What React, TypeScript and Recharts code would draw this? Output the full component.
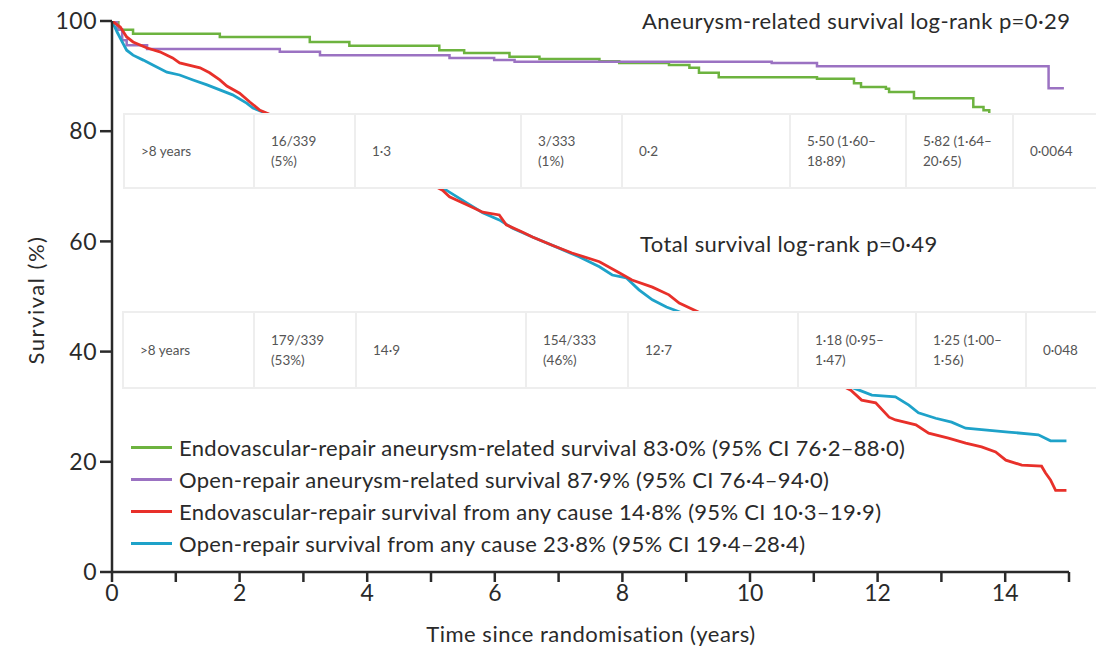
import React from "react";
import { LineChart, Line, XAxis, YAxis } from "recharts";

// [years, survival %]
const evarAneurysm: [number, number][] = [
  [0, 100], [0.1, 98.4], [0.33, 97.7], [1.69, 97.1], [3.1, 96.2], [3.72, 95.5],
  [5.13, 94.7], [5.52, 94.2], [6.23, 93.5], [6.7, 93.1], [7.64, 92.7], [7.95, 92.4],
  [8.73, 92.0], [9.05, 91.5], [9.2, 90.6], [9.51, 89.8], [11.05, 89.5], [11.63, 88.7],
  [11.74, 88.0], [12.13, 87.7], [12.18, 87.1], [12.57, 86.0], [13.5, 84.4],
  [13.66, 83.8], [13.75, 83.0],
];
const openAneurysm: [number, number][] = [
  [0, 100], [0.08, 98.4], [0.16, 96.5], [0.23, 95.6], [0.55, 94.9], [2.63, 94.4],
  [3.26, 93.8], [5.29, 93.3], [5.99, 92.9], [6.31, 92.6], [10.34, 92.4],
  [11.05, 91.8], [14.68, 87.8], [14.92, 87.8],
];
const evarAnyCause: [number, number][] = [
  [0, 100], [0.13, 98.9], [0.23, 97.1], [0.33, 96.2], [0.55, 95.1], [0.75, 94.4],
  [0.95, 93.3], [1.06, 92.4], [1.38, 91.5], [1.53, 90.6], [1.69, 89.3], [1.8, 88.2],
  [2.0, 86.9], [2.16, 85.3], [2.32, 83.8], [3.0, 80.5], [3.7, 77.3], [4.4, 73.8],
  [4.9, 71.0], [5.18, 69.3], [5.29, 68.1], [5.57, 66.6], [5.81, 65.3], [6.07, 64.8],
  [6.18, 63.0], [6.43, 61.7], [6.59, 60.8], [6.9, 59.3], [7.21, 57.9], [7.64, 56.3],
  [7.95, 54.3], [8.15, 53.0], [8.47, 51.7], [8.73, 50.3], [8.89, 48.8], [9.5, 45.5],
  [10.2, 41.5], [10.9, 37.0], [11.58, 33.0], [11.75, 31.2], [11.97, 30.7],
  [12.18, 28.1], [12.28, 27.6], [12.6, 26.7], [12.8, 25.2], [13.11, 24.3],
  [13.38, 23.4], [13.63, 22.7], [13.85, 21.8], [14.01, 20.3], [14.26, 19.4],
  [14.57, 19.2], [14.63, 18.0], [14.71, 16.7], [14.79, 14.8], [14.96, 14.8],
];
const openAnyCause: [number, number][] = [
  [0, 100], [0.08, 98.0], [0.17, 96.0], [0.23, 94.7], [0.33, 93.8], [0.49, 92.9],
  [0.64, 92.0], [0.86, 90.7], [1.06, 90.2], [1.27, 89.3], [1.49, 88.4], [1.69, 87.5],
  [1.89, 86.6], [2.11, 85.1], [2.21, 84.2], [2.9, 81.0], [3.6, 77.8], [4.3, 74.2],
  [4.9, 71.0], [5.24, 69.3], [5.56, 67.0], [5.81, 65.2], [6.07, 63.9], [6.28, 62.4],
  [6.59, 60.8], [6.96, 59.0], [7.32, 57.2], [7.64, 55.4], [7.84, 53.9], [8.06, 53.4],
  [8.26, 51.2], [8.47, 49.4], [8.69, 48.1], [9.4, 45.0], [10.1, 41.0], [10.9, 36.5],
  [11.71, 33.0], [11.91, 32.1], [12.28, 31.8], [12.49, 30.3], [12.64, 28.9],
  [12.91, 27.9], [13.16, 27.2], [13.38, 26.1], [14.05, 25.4], [14.52, 24.9],
  [14.71, 23.8], [14.96, 23.8],
];

const xTicks = [0, 1, 2, 3, 4, 5, 6, 7, 8, 9, 10, 11, 12, 13, 14, 15];
const yTicks = [0, 20, 40, 60, 80, 100];

const aneurysmRow = [">8 years", "16/339\n(5%)", "1·3", "3/333\n(1%)", "0·2", "5·50 (1·60–\n18·89)", "5·82 (1·64–\n20·65)", "0·0064"];
const totalRow = [">8 years", "179/339\n(53%)", "14·9", "154/333\n(46%)", "12·7", "1·18 (0·95–\n1·47)", "1·25 (1·00–\n1·56)", "0·048"];

const legendItems = [
  { label: "Endovascular-repair aneurysm-related survival 83·0% (95% CI 76·2–88·0)", color: "#6db33f" },
  { label: "Open-repair aneurysm-related survival 87·9% (95% CI 76·4–94·0)", color: "#9b72c2" },
  { label: "Endovascular-repair survival from any cause 14·8% (95% CI 10·3–19·9)", color: "#e8302a" },
  { label: "Open-repair survival from any cause 23·8% (95% CI 19·4–28·4)", color: "#1ea2c9" },
];

const toRows = (pts: [number, number][]) => pts.map(([t, s]) => ({ t, s }));

const FONT = "Lato, 'Open Sans', sans-serif";
const INK = "#2a2a2a";

function StatsTable({ top, height, left, cols, cells }: { top: number; height: number; left: number; cols: number[]; cells: string[] }) {
  const edges = [left, ...cols, 1096];
  return (
    <div style={{ position: "absolute", top, left, width: 1096 - left, height, background: "#fff", border: "2px solid #eeeeee", borderRight: "none", boxSizing: "border-box" }}>
      {cells.map((c, i) => (
        <div
          key={i}
          style={{
            position: "absolute",
            left: edges[i] - left,
            width: edges[i + 1] - edges[i],
            top: 0,
            bottom: 0,
            borderLeft: i === 0 ? "none" : "2px solid #eeeeee",
            boxSizing: "border-box",
            display: "flex",
            alignItems: "center",
            paddingLeft: 16,
            whiteSpace: "pre",
            fontSize: 13.5,
            lineHeight: "20px",
            color: "#555",
            fontFamily: FONT,
          }}
        >
          {c}
        </div>
      ))}
    </div>
  );
}

export default function App() {
  return (
    <div style={{ position: "absolute", top: 0, left: 0, width: 1096, height: 647, background: "#fff", overflow: "hidden", fontFamily: FONT }}>
      <LineChart width={1096} height={647} margin={{ top: 21, right: 27, left: 52, bottom: 35 }}>
        <XAxis
          type="number"
          dataKey="t"
          domain={[0, 15]}
          ticks={xTicks}
          interval={0}
          tickFormatter={(v: number) => (v % 2 === 0 ? String(v) : "")}
          height={40}
          tickSize={10}
          tickMargin={3}
          axisLine={{ stroke: INK, strokeWidth: 2.5 }}
          tickLine={{ stroke: INK, strokeWidth: 2.5 }}
          tick={{ fill: INK, fontSize: 23, fontFamily: FONT }}
          allowDataOverflow
        />
        <YAxis
          type="number"
          domain={[0, 100]}
          ticks={yTicks}
          interval={0}
          width={60}
          tickSize={12}
          tickMargin={3}
          axisLine={{ stroke: INK, strokeWidth: 2.5 }}
          tickLine={{ stroke: INK, strokeWidth: 2.5 }}
          tick={{ fill: INK, fontSize: 23, fontFamily: FONT, letterSpacing: 0.5 }}
          allowDataOverflow
        />
        <Line data={toRows(evarAneurysm)} dataKey="s" type="stepAfter" stroke={legendItems[0].color} strokeWidth={2.5} dot={false} isAnimationActive={false} />
        <Line data={toRows(openAneurysm)} dataKey="s" type="stepAfter" stroke={legendItems[1].color} strokeWidth={2.5} dot={false} isAnimationActive={false} />
        <Line data={toRows(openAnyCause)} dataKey="s" type="linear" stroke={legendItems[3].color} strokeWidth={2.8} dot={false} isAnimationActive={false} />
        <Line data={toRows(evarAnyCause)} dataKey="s" type="linear" stroke={legendItems[2].color} strokeWidth={2.8} dot={false} isAnimationActive={false} />
      </LineChart>

      <StatsTable top={113} height={76} left={123} cols={[251, 352, 518, 619, 787, 903, 1010]} cells={aneurysmRow} />
      <StatsTable top={311} height={78} left={122} cols={[251, 353, 523, 625, 795, 913, 1023]} cells={totalRow} />

      <div style={{ position: "absolute", left: 642, top: 7, fontSize: 22, letterSpacing: 0.4, color: INK, whiteSpace: "nowrap" }}>
        Aneurysm-related survival log-rank p=0·29
      </div>
      <div style={{ position: "absolute", left: 640, top: 230, fontSize: 22, letterSpacing: 0.4, color: INK, whiteSpace: "nowrap" }}>
        Total survival log-rank p=0·49
      </div>

      {legendItems.map((it, i) => (
        <div key={i} style={{ position: "absolute", left: 131, top: 433 + i * 32, height: 28, display: "flex", alignItems: "center", whiteSpace: "nowrap" }}>
          <div style={{ width: 41, height: 0, borderTop: `3px solid ${it.color}`, marginRight: 7 }} />
          <span style={{ fontSize: 22, letterSpacing: 0.3, color: INK }}>{it.label}</span>
        </div>
      ))}

      <div style={{ position: "absolute", left: 35, top: 300, transform: "translate(-50%, -50%) rotate(-90deg)", fontSize: 22, letterSpacing: 1.5, color: INK, whiteSpace: "nowrap" }}>
        Survival (%)
      </div>
      <div style={{ position: "absolute", left: 591, top: 633, transform: "translate(-50%, -50%)", fontSize: 22, letterSpacing: 0.5, color: INK, whiteSpace: "nowrap" }}>
        Time since randomisation (years)
      </div>
    </div>
  );
}
